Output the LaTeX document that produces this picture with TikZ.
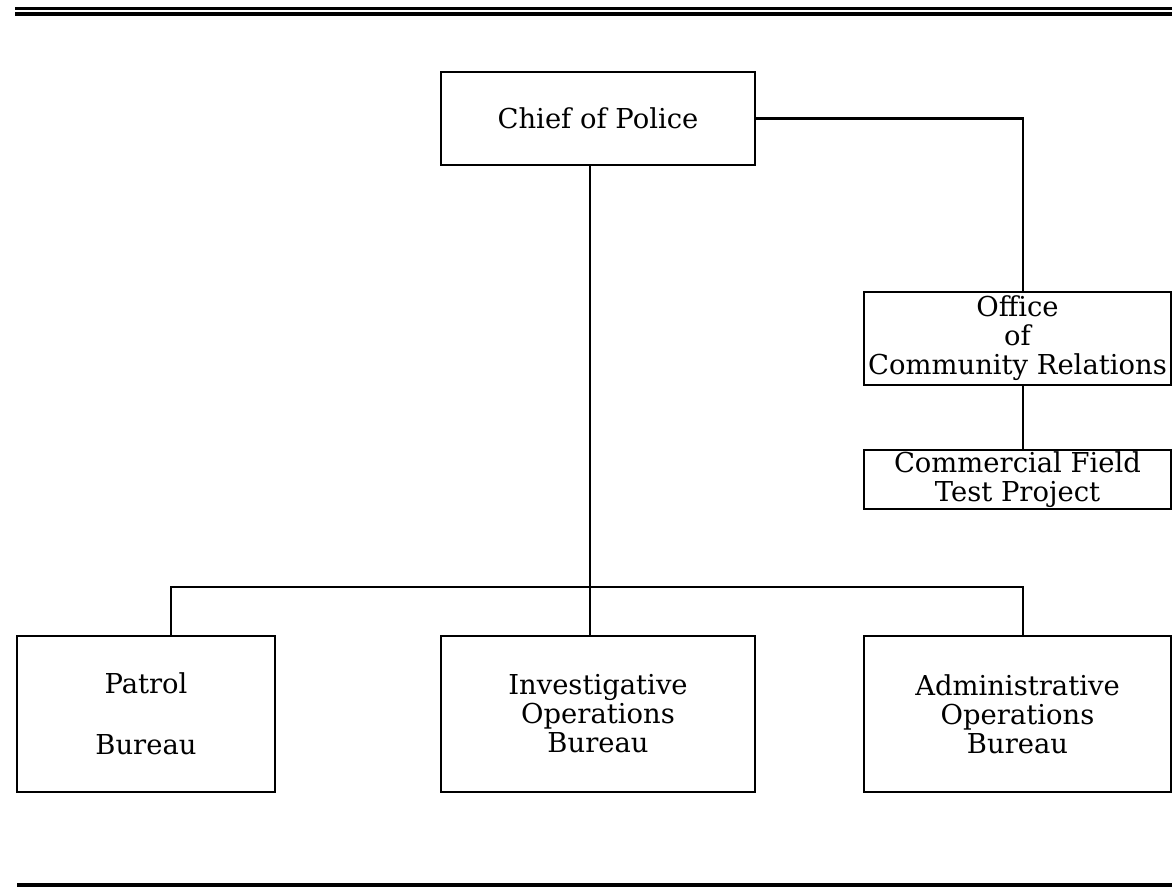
\documentclass[tikz,border=0pt]{standalone}
\usepackage{fontspec}
\setmainfont{DejaVu Serif}
\usepackage{tikz}

\begin{document}
\begin{tikzpicture}[x=0.02cm, y=-0.02cm, line width=1.2pt,
    unit/.style={draw, align=center, inner sep=0pt, font=\fontsize{15.6}{16.5}\selectfont}]
	  \useasboundingbox (0, 0) rectangle (1172, 887);
	  % rules at top and bottom
	  \draw[line width=1.6pt](15, 8.5) -- (1172, 8.5);
	  \draw[line width=2pt](15, 14) -- (1172, 14);
	  \draw[line width=2pt](17, 885) -- (1172, 885);
	  % boxes
	  \node[unit, minimum width=6.28cm, minimum height=1.86cm] (chief) at (598, 118.5) {Chief of Police};
	  \node[unit, minimum width=6.14cm, minimum height=1.86cm] (office) at (1017.5, 338.5) {Office\\of\\Community Relations};
	  \node[unit, minimum width=6.14cm, minimum height=1.18cm] (cftp) at (1017.5, 479.5) {Commercial Field\\Test Project};
	  \node[unit, minimum width=5.16cm, minimum height=3.12cm] (patrol) at (146, 714) {Patrol\\[0.64cm]Bureau};
	  \node[unit, minimum width=6.28cm, minimum height=3.12cm] (invest) at (598, 714) {Investigative\\Operations\\Bureau};
	  \node[unit, minimum width=6.14cm, minimum height=3.12cm] (admin) at (1017.5, 714) {Administrative\\Operations\\Bureau};
	  % connectors
	  \coordinate (trunk) at (590, 587);
	  \coordinate (busl) at (171, 587);
	  \coordinate (busr) at (1023, 587);
	  \draw(chief.east) -| (office.north -| busr);
	  \draw(office.south -| busr) -- (cftp.north -| busr);
	  \draw(chief.south -| trunk) -- (invest.north -| trunk);
	  \draw(patrol.north -| busl) |- (busr) -- (admin.north -| busr);
	\end{tikzpicture}
\end{document}
